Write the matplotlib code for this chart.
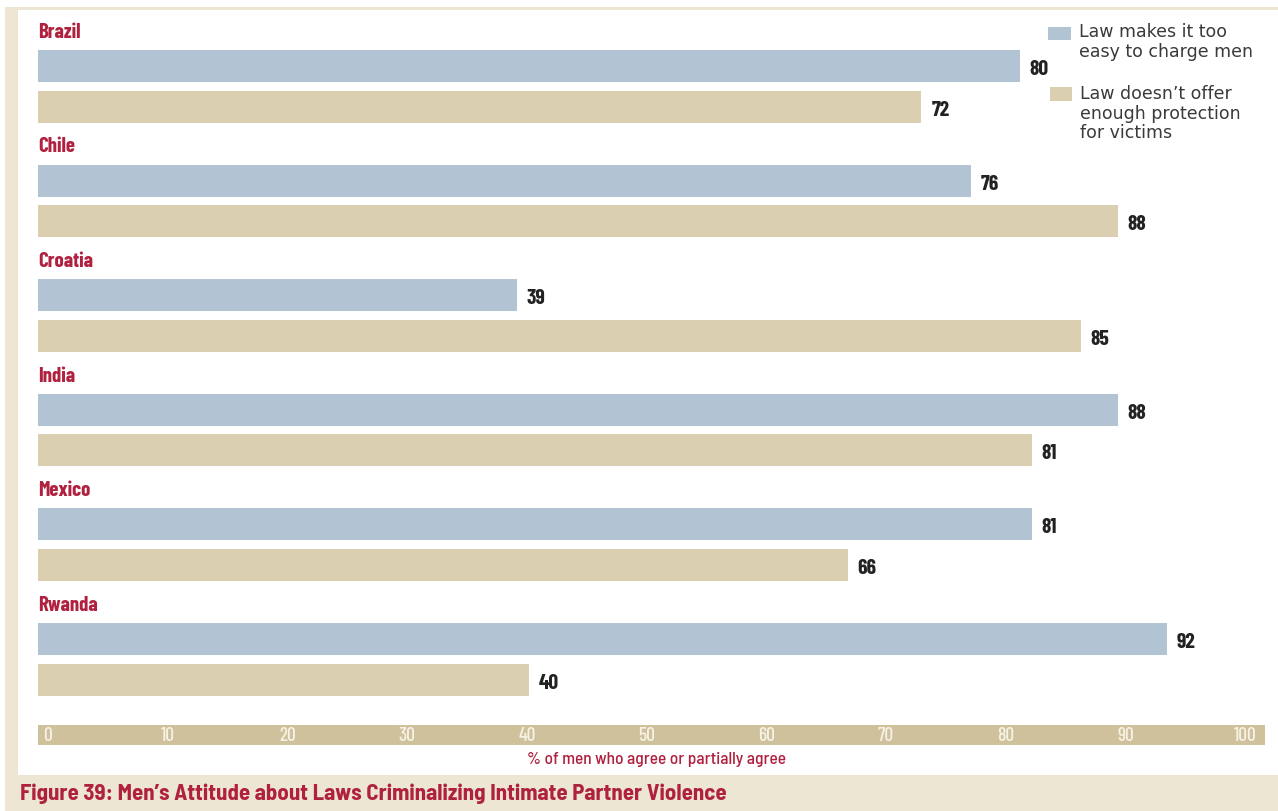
import matplotlib.pyplot as plt
from matplotlib.patches import Rectangle

# survey results, % of men who agree or partially agree
countries = ["Brazil", "Chile", "Croatia", "India", "Mexico", "Rwanda"]
too_easy = [80, 76, 39, 88, 81, 92]
not_enough = [72, 88, 85, 81, 66, 40]
ticks = [0, 10, 20, 30, 40, 50, 60, 70, 80, 90, 100]

BLUE = "#b2c4d3"
TAN = "#dacfb0"
STRIP = "#cfc19b"
RED = "#b0203f"
FRAME = "#ede6d3"
NARROW = ["Barlow Condensed", "DejaVu Sans"]
SEMI = ["Barlow Semi Condensed", "DejaVu Sans"]

W, H = 1278, 811
fig = plt.figure(figsize=(W / 100, H / 100), dpi=100, facecolor="white")


def frame_box(x0, y0, x1, y1, color):
    # rectangle given in pixels from the top-left corner
    fig.add_artist(Rectangle((x0 / W, 1 - y1 / H), (x1 - x0) / W, (y1 - y0) / H,
                             transform=fig.transFigure, facecolor=color,
                             edgecolor="none", zorder=0))


frame_box(5, 7, W, 10, FRAME)      # thin top rule
frame_box(5, 7, 18, H, FRAME)      # left strip
frame_box(5, 775, W, H, FRAME)     # caption band

ax = fig.add_axes([38 / W, 1 - 770 / H, 1227 / W, 760 / H])
ax.set_facecolor("none")
ax.set_xlim(0, 100)
ax.set_ylim(6.143, -0.489)
for s in ax.spines.values():
    s.set_visible(False)
ax.set_xticks([])
ax.set_yticks([])

gap = 0.354
bar_h = 0.28
for i, name in enumerate(countries):
    ax.barh(i, too_easy[i], height=bar_h, color=BLUE, align="center")
    ax.barh(i + gap, not_enough[i], height=bar_h, color=TAN, align="center")
    ax.text(0, i - 0.295, name, family=NARROW, fontweight="bold", fontsize=15,
            color=RED, va="center", ha="left")
    ax.text(too_easy[i] + 0.8, i + 0.03, str(too_easy[i]), family=NARROW,
            fontweight="bold", fontsize=15.5, color="#222222", va="center")
    ax.text(not_enough[i] + 0.8, i + gap + 0.03, str(not_enough[i]), family=NARROW,
            fontweight="bold", fontsize=15.5, color="#222222", va="center")

# scale strip along the bottom
ax.axhspan(5.75, 5.925, color=STRIP, lw=0)
for t in ticks:
    ax.text(t * 0.976 + 0.8, 5.842, str(t), family=NARROW, fontweight="medium",
            fontsize=14, color="#f6f2e6", ha="center", va="center")
ax.text(50.4, 6.05, "% of men who agree or partially agree", family=SEMI,
        fontweight="medium", fontsize=12.5, color=RED, ha="center", va="center")

# legend
frame_box(1048, 27, 1071, 40, BLUE)
fig.text(1079 / W, 1 - 23 / H, "Law makes it too\neasy to charge men",
         fontsize=12.5, color="#3a3a3a", va="top", ha="left", linespacing=1.12)
frame_box(1050, 87, 1072, 101, TAN)
fig.text(1080 / W, 1 - 85 / H, "Law doesn\u2019t offer\nenough protection\nfor victims",
         fontsize=12.5, color="#3a3a3a", va="top", ha="left", linespacing=1.12)

fig.text(20 / W, 1 - 794 / H,
         "Figure 39: Men\u2019s Attitude about Laws Criminalizing Intimate Partner Violence",
         family=SEMI, fontweight="bold", fontsize=16.5, color=RED, va="center", ha="left")

fig.savefig("out.png", dpi=100, facecolor="white")
